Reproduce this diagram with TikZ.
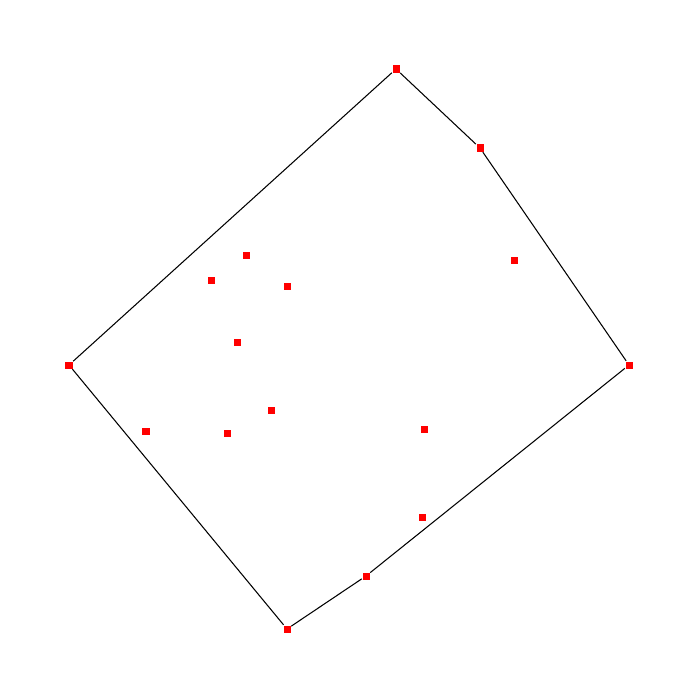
\documentclass[tikz,border=0pt]{standalone}
\usepackage{amsmath,amssymb}
\usepackage{xcolor}

\begin{document}
\begin{tikzpicture}[x=0.01cm,y=-0.01cm,
  pt/.style={fill=red,inner sep=0pt,minimum size=0.07cm}]
\useasboundingbox (0,0) rectangle (700,700);
\node[pt] (p1) at (396,69) {};
\node[pt] (p2) at (480,148) {};
\node[pt] (p3) at (629,365) {};
\node[pt] (p4) at (366,576) {};
\node[pt] (p5) at (287,629) {};
\node[pt] (p6) at (69,365) {};
\node[pt] (q1) at (246,255) {};
\node[pt] (q2) at (211,280) {};
\node[pt] (q3) at (287,286) {};
\node[pt] (q4) at (514,260) {};
\node[pt] (q5) at (237,342) {};
\node[pt] (q6) at (271,410) {};
\node[pt] (q7) at (146,431) {};
\node[pt] (q8) at (227,433) {};
\node[pt] (q9) at (424,429) {};
\node[pt] (q10) at (422,517) {};
\draw[line width=0.3pt]  (p1) -- (p2);
\draw[line width=0.3pt]  (p2) -- (p3);
\draw[line width=0.3pt]  (p3) -- (p4);
\draw[line width=0.3pt]  (p4) -- (p5);
\draw[line width=0.3pt]  (p5) -- (p6);
\draw[line width=0.3pt]  (p6) -- (p1);
\end{tikzpicture}
\end{document}
